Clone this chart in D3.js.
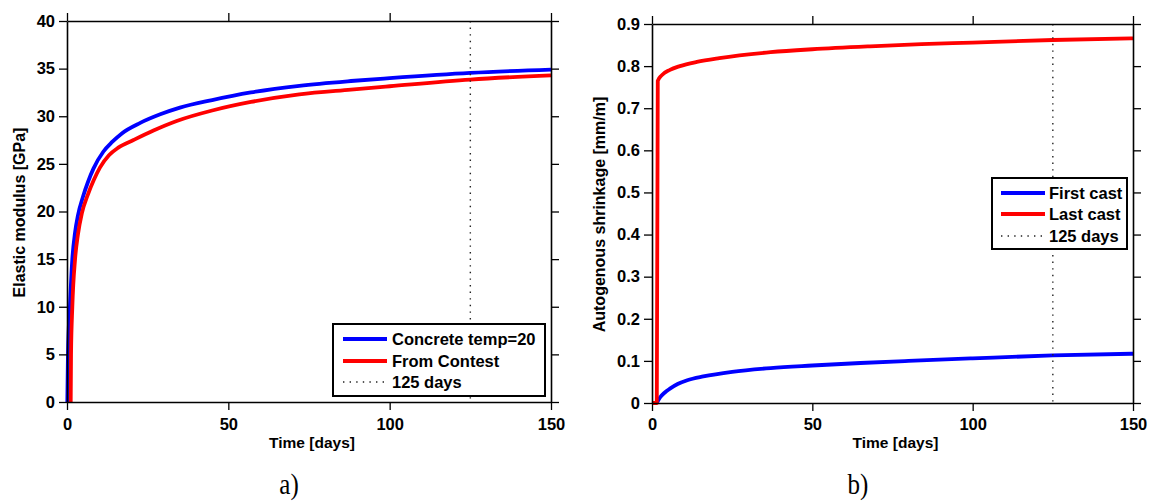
<!DOCTYPE html>
<html>
<head>
<meta charset="utf-8">
<script src="https://cdn.jsdelivr.net/npm/d3@7"></script>
<style>
  html, body { margin: 0; padding: 0; background: #fff; }
  svg { display: block; }
  text { font-family: "Liberation Sans", Arial, Helvetica, sans-serif; font-weight: bold; fill: #000; }
</style>
</head>
<body>
<svg id="chart" width="1153" height="504"></svg>
<script>
// ---------- data ----------
const xTicks = [0, 50, 100, 150];
const yTicksA = [0, 5, 10, 15, 20, 25, 30, 35, 40];
const yTicksB = [0, 0.1, 0.2, 0.3, 0.4, 0.5, 0.6, 0.7, 0.8, 0.9];
const markerDay = 125;

// Panel a) Elastic modulus [GPa]
const concreteTemp20 = [
  [0.1, 0], [0.3, 5], [0.9, 10], [1.65, 15], [2.5, 17.8], [3.4, 19.6], [5, 21.6], [6.5, 23.1],
  [8.2, 24.5], [11.3, 26.3], [14, 27.3], [17, 28.2], [22.7, 29.3], [28.9, 30.2], [35, 30.9],
  [45, 31.7], [57, 32.5], [72, 33.2], [88, 33.7], [100, 34.0], [125, 34.55], [150, 34.9]
];
const fromContest = [
  [1.15, 0], [1.25, 5], [1.65, 10], [2.5, 15], [3.4, 17.6], [4.6, 19.8], [6.5, 21.8], [8.3, 23.3],
  [10.2, 24.6], [13, 25.9], [15.9, 26.7], [20.6, 27.5], [26.8, 28.5], [34, 29.5], [45, 30.6],
  [57, 31.5], [72, 32.3], [88, 32.8], [100, 33.15], [125, 33.85], [150, 34.3]
];
// Panel b) Autogenous shrinkage [mm/m]
const firstCast = [
  [1.5, 0], [2.5, 0.013], [4, 0.025], [5.6, 0.034], [8, 0.045], [11, 0.054], [16, 0.063],
  [25, 0.074], [37, 0.083], [50, 0.089], [65, 0.095], [80, 0.100], [100, 0.106], [125, 0.113], [150, 0.117]
];
const lastCast = [
  [0, 0], [1.5, 0], [1.8, 0.765], [3, 0.778], [5.6, 0.791], [8.7, 0.800], [14, 0.810], [21, 0.819],
  [37, 0.833], [50, 0.840], [68, 0.847], [84, 0.852], [100, 0.856], [125, 0.862], [150, 0.866]
];

const legendA = ["Concrete temp=20", "From Contest", "125 days"];
const legendB = ["First cast", "Last cast", "125 days"];
const seriesColors = ["#0000ff", "#ff0000", "#000000"];

// ---------- drawing ----------
const svg = d3.select("#chart");

function panel(opts) {
  const { x, y, yTicks, yFmt, series, legend, legendPos, ylabel, ylabelX, caption, captionX } = opts;
  const g = svg.append("g");
  const [x0, x1] = x.range();
  const [y0, y1] = y.range();

  // series
  const line = d3.line().x(d => x(d[0])).y(d => y(d[1])).curve(d3.curveMonotoneX);
  series.forEach((s, i) => {
    g.append("path").datum(s).attr("d", line)
      .attr("fill", "none").attr("stroke", seriesColors[i]).attr("stroke-width", 3.8)
      .attr("stroke-linejoin", "round");
  });

  // marker line
  g.append("line").attr("x1", x(markerDay)).attr("x2", x(markerDay))
    .attr("y1", y1).attr("y2", y0)
    .attr("stroke", "#222").attr("stroke-width", 1.4).attr("stroke-dasharray", "1.4,5.2");

  // axes
  const styleAxis = sel => {
    sel.select(".domain").attr("stroke", "#000").attr("stroke-width", 1.6);
    sel.selectAll(".tick line").attr("stroke", "#000").attr("stroke-width", 1.3);
    sel.selectAll(".tick text").style("font-size", "16.5px").style("font-family", "'Liberation Sans', Arial, sans-serif").style("font-weight", "bold");
  };
  g.append("g").attr("transform", `translate(0,${y0})`)
    .call(d3.axisBottom(x).tickValues(xTicks).tickSize(8).tickSizeOuter(0).tickPadding(opts.xPad).tickFormat(d3.format("d")))
    .call(styleAxis);
  g.append("g").attr("transform", `translate(0,${y1})`)
    .call(d3.axisTop(x).tickValues(xTicks).tickSize(8).tickSizeOuter(0).tickFormat(""))
    .call(styleAxis);
  g.append("g").attr("transform", `translate(${x0},0)`)
    .call(d3.axisLeft(y).tickValues(yTicks).tickSize(8).tickSizeOuter(0).tickPadding(4).tickFormat(yFmt))
    .call(styleAxis);
  g.append("g").attr("transform", `translate(${x1},0)`)
    .call(d3.axisRight(y).tickValues(yTicks).tickSize(8).tickSizeOuter(0).tickFormat(""))
    .call(styleAxis);

  // axis labels
  g.append("text").attr("x", (x0 + x1) / 2 + 3).attr("y", 448)
    .attr("text-anchor", "middle").style("font-size", "15.5px").text("Time [days]");
  g.append("text").attr("transform", `translate(${ylabelX},${(y0 + y1) / 2 + 1}) rotate(-90)`)
    .attr("text-anchor", "middle").attr("dy", "0.35em").style("font-size", "16px").text(ylabel);

  // caption
  g.append("text").attr("transform", `translate(${captionX},494) scale(1,1.22)`).attr("text-anchor", "middle")
    .style("font-family", "'Liberation Serif', 'Times New Roman', serif").style("font-weight", "normal")
    .style("font-size", "25px").text(caption);

  // legend
  const lg = g.append("g");
  const { left, top, w, h, rowY, sampleX0, sampleX1, textX } = legendPos;
  lg.append("rect").attr("x", left).attr("y", top).attr("width", w).attr("height", h)
    .attr("fill", "#fff").attr("stroke", "#000").attr("stroke-width", 2);
  legend.forEach((name, i) => {
    const yy = top + rowY[i];
    const l = lg.append("line").attr("x1", left + sampleX0).attr("x2", left + sampleX1)
      .attr("y1", yy).attr("y2", yy).attr("stroke", seriesColors[i]);
    if (i < 2) l.attr("stroke-width", 3.8);
    else l.attr("stroke-width", 1.4).attr("stroke-dasharray", "1.4,5.2").attr("stroke", "#222");
    lg.append("text").attr("x", left + textX).attr("y", yy).attr("dy", "0.36em")
      .style("font-size", "16.5px").text(name);
  });
}

panel({
  x: d3.scaleLinear([0, 150], [67, 551]),
  y: d3.scaleLinear([0, 40], [402, 21]),
  yTicks: yTicksA, yFmt: d3.format("d"), xPad: 8,
  series: [concreteTemp20, fromContest],
  legend: legendA,
  legendPos: { left: 333, top: 324, w: 212, h: 72, rowY: [15, 37, 58], sampleX0: 10, sampleX1: 54, textX: 59 },
  ylabel: "Elastic modulus [GPa]", ylabelX: 19,
  caption: "a)", captionX: 289
});

panel({
  x: d3.scaleLinear([0, 150], [652, 1133]),
  y: d3.scaleLinear([0, 0.9], [403, 24]),
  yTicks: yTicksB, yFmt: d => d === 0 ? "0" : d3.format(".1f")(d), xPad: 7,
  series: [firstCast, lastCast],
  legend: legendB,
  legendPos: { left: 992, top: 178, w: 135, h: 71, rowY: [15, 36, 58], sampleX0: 9, sampleX1: 53, textX: 57 },
  ylabel: "Autogenous shrinkage [mm/m]", ylabelX: 599,
  caption: "b)", captionX: 858
});
</script>
</body>
</html>
